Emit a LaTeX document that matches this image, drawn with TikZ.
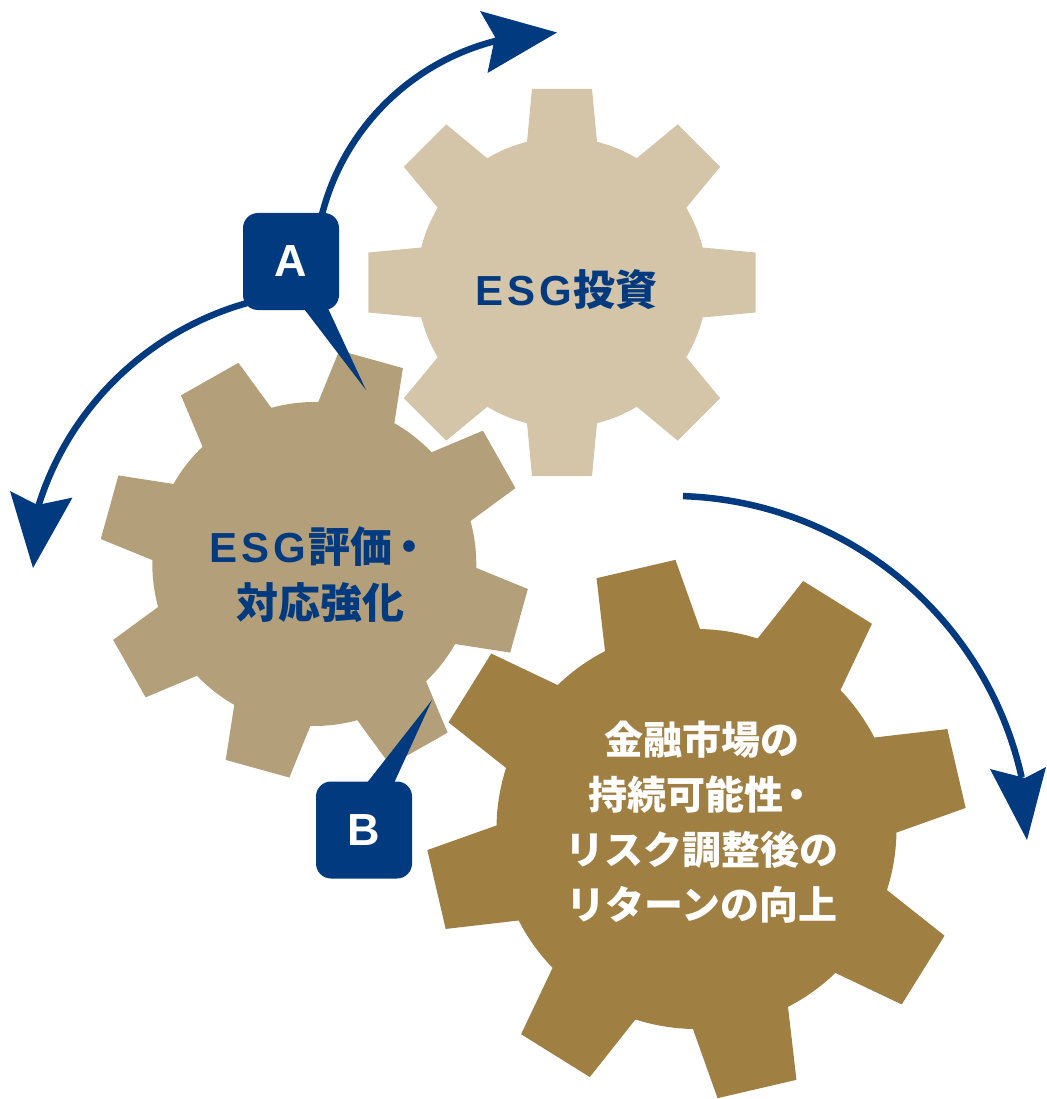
\documentclass[tikz,border=0pt]{standalone}
\usepackage{fontspec}
\newfontfamily\jpfont{Noto Sans CJK JP}
\newfontfamily\latfont{Liberation Sans}
\definecolor{navy}{HTML}{023A80}
\definecolor{gearA}{HTML}{D4C4A8}
\definecolor{gearB}{HTML}{B3A07A}
\definecolor{gearC}{HTML}{A07F43}
\newcommand\drawgear[8]{% cx, cy, R, r, wo, wb, phase, colour
  \pgfmathsetmacro\gbo{asin(#5/#3)}%
  \pgfmathsetmacro\gbb{asin(#6/#4)}%
  \begin{scope}[shift={(#1,-#2)}]
    \fill[#8] (#7-\gbb:#4)
      \foreach \i [evaluate=\i as \t using #7+45*\i] in {0,...,7}{
        -- (\t-\gbo:#3) -- (\t+\gbo:#3) -- (\t+\gbb:#4)
        arc[start angle=\t+\gbb, end angle=\t+45-\gbb, radius=#4]
      } -- cycle;
  \end{scope}}
\newcommand\esgword{{\latfont E\kern4pt S\kern4pt G}\kern2pt}
\tikzset{
  arcline/.style={draw=navy, line width=6.5pt},
  headfill/.style={fill=navy, draw=none},
  tagbox/.style={fill=navy, rounded corners=15pt, minimum width=96pt, minimum height=97pt, inner sep=0pt,
    text=white, font=\latfont\bfseries\fontsize{45}{45}\selectfont},
  darktext/.style={text=navy, align=center, inner sep=0pt, font=\jpfont\bfseries\fontsize{42}{56}\selectfont},
  lighttext/.style={text=white, align=center, inner sep=0pt, font=\jpfont\bfseries\fontsize{39}{55}\selectfont}
}
\begin{document}
\begin{tikzpicture}[x=1pt,y=1pt]
\useasboundingbox (0,0) rectangle (1046,-1099);
\clip (0,0) rectangle (1046,-1099);
% gears
\drawgear{562}{282.5}{196}{145}{30}{35}{0}{gearA}
\drawgear{314.3}{564}{215}{162}{33}{39.5}{29.5}{gearB}
\drawgear{696.5}{829}{270}{200}{40.5}{48.8}{13.1}{gearC}
% arc centres
\coordinate (cu) at (554.6,-273.6);
\coordinate (cl) at (329.6,-596.7);
\coordinate (cr) at (671.1,-854.9);
% arcs
\draw[arcline] ([shift={(cu)}]175:240) arc[start angle=175, end angle=104, radius=240];
\draw[arcline] ([shift={(cl)}]90:305) arc[start angle=90, end angle=163, radius=305];
\draw[arcline] ([shift={(cr)}]88.1:359) arc[start angle=88.1, end angle=12.5, radius=359];
% arrow heads
\coordinate (hu) at (557,-32.5);
\coordinate (hl) at (33,-568);
\coordinate (hr) at (1027,-840);
\fill[headfill] (hu) -- (480,-11) -- (495,-37) -- (487.5,-73) -- cycle;
\fill[headfill] (hl) -- (10,-491) -- (37.5,-505) -- (72.5,-497.6) -- cycle;
\fill[headfill] (hr) -- (990,-769) -- (1025,-778) -- (1046,-767) -- cycle;
% tags
\node[tagbox] (A) at (291,-261.5) {A};
\coordinate (Atip) at (366,-390);
\fill[navy] ([xshift=11pt,yshift=4pt]A.south) -- (Atip) -- ([xshift=36pt,yshift=4pt]A.south) -- cycle;
\node[tagbox] (B) at (364,-830) {B};
\coordinate (Btip) at (432,-700);
\fill[navy] ([xshift=1pt,yshift=-4pt]B.north) -- (Btip) -- ([xshift=29pt,yshift=-4pt]B.north) -- cycle;
% texts
\node[darktext] (t1) at (566.5,-290) {\esgword 投資};
\node[darktext] (t2) at (320,-575) {\esgword 評価\kern-4pt・\\対応強化};
\node[lighttext] (t3) at (702,-822) {金融市場の\\持続可能性\kern-6pt・\\リスク調整後の\\リターンの向上};
\end{tikzpicture}
\end{document}
